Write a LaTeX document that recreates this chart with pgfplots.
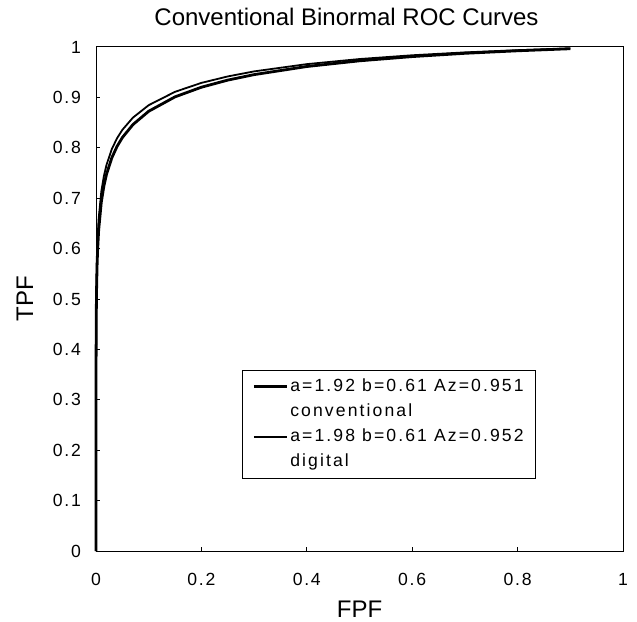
\documentclass[border=0pt]{standalone}
\usepackage{fontspec}
\setmainfont{Liberation Sans}
\newfontfamily\spacedfont[LetterSpace=10]{Liberation Sans}
\newfontfamily\legendfontfam[LetterSpace=12]{Liberation Sans}
\usepackage{pgfplots}
\pgfplotsset{compat=1.18}

\newcommand\tickfont{\spacedfont\fontsize{8.8}{10}\selectfont}
\newcommand\legfont{\legendfontfam\fontsize{8.8}{10}\selectfont}

\begin{document}
\begin{tikzpicture}
\begin{axis}[
    scale only axis,
    width=263.5pt, height=252pt,
    xmin=0, xmax=1, ymin=0, ymax=1,
    xtick={0,0.2,0.4,0.6,0.8,1},
    ytick={0,0.1,0.2,0.3,0.4,0.5,0.6,0.7,0.8,0.9,1},
    tick pos=left,
    tick align=inside,
    major tick length=2pt,
    axis line style={line width=0.5pt},
    every tick/.style={black, line width=0.5pt},
    /pgf/number format/assume math mode=true,
    tick label style={font=\tickfont},
    yticklabel style={xshift=-4pt},
    xticklabel style={yshift=-7.5pt},
    title={Conventional Binormal ROC Curves},
    title style={font=\fontsize{12}{14}\selectfont, at={(axis description cs:0.5,1)}, anchor=base, yshift=4.5pt, xshift=-6.5pt},
    xlabel={FPF},
    xlabel style={font=\fontsize{12}{14}\selectfont, at={(axis description cs:0.5,-0.132)}, anchor=base},
    ylabel={TPF},
    ylabel style={font=\fontsize{12}{14}\selectfont, at={(axis description cs:-0.1195,0.5)}, anchor=base},
    clip=false,
    legend style={
        at={(0.277,0.359)}, anchor=north west,
        draw=black, line width=0.5pt,
        inner xsep=5pt, inner ysep=3pt,
        row sep=2.5pt,
        font=\legfont,
        nodes={inner sep=1pt, text height=6.3pt, text depth=1.8pt},
    },
    legend cell align=left,
    legend image code/.code={\draw[#1] (0pt,0pt) -- (16.5pt,0pt);},
]

% conventional: a=1.92, b=0.61
\addplot[black, line width=1.4pt] coordinates {
    (0,0) (0.00000001,0.0664) (0.000001,0.1638) (0.00001,0.2477)
    (0.0001,0.3636) (0.0005,0.4651) (0.001,0.5140) (0.002,0.5653)
    (0.003,0.5963) (0.005,0.6363) (0.01,0.6919) (0.015,0.7245)
    (0.02,0.7477) (0.03,0.7801) (0.04,0.8029) (0.05,0.8203)
    (0.07,0.8460) (0.1,0.8725) (0.15,0.9011) (0.2,0.9202)
    (0.25,0.9343) (0.3,0.9452) (0.4,0.9613) (0.5,0.9726)
    (0.6,0.9810) (0.7,0.9875) (0.8,0.9925) (0.9,0.9966)
};
\addlegendentry{a=1.92 b=0.61 Az=0.951}
\addlegendimage{empty legend}
\addlegendentry{conventional}

% digital: a=1.98, b=0.61
\addplot[black, line width=0.9pt] coordinates {
    (0,0) (0.00000001,0.0745) (0.000001,0.1790) (0.00001,0.2670)
    (0.0001,0.3863) (0.0005,0.4890) (0.001,0.5379) (0.002,0.5888)
    (0.003,0.6193) (0.005,0.6586) (0.01,0.7126) (0.015,0.7442)
    (0.02,0.7664) (0.03,0.7975) (0.04,0.8191) (0.05,0.8356)
    (0.07,0.8598) (0.1,0.8846) (0.15,0.9111) (0.2,0.9288)
    (0.25,0.9416) (0.3,0.9516) (0.4,0.9660) (0.5,0.9761)
    (0.6,0.9836) (0.7,0.9893) (0.8,0.9937) (0.9,0.9971)
};
\addlegendentry{a=1.98 b=0.61 Az=0.952}
\addlegendimage{empty legend}
\addlegendentry{digital}

\end{axis}
\pgfresetboundingbox
\path[use as bounding box] ([shift={(-48pt,-35pt)}]current axis.south west)
    rectangle ([shift={(7pt,23.5pt)}]current axis.north east);
\end{tikzpicture}
\end{document}
